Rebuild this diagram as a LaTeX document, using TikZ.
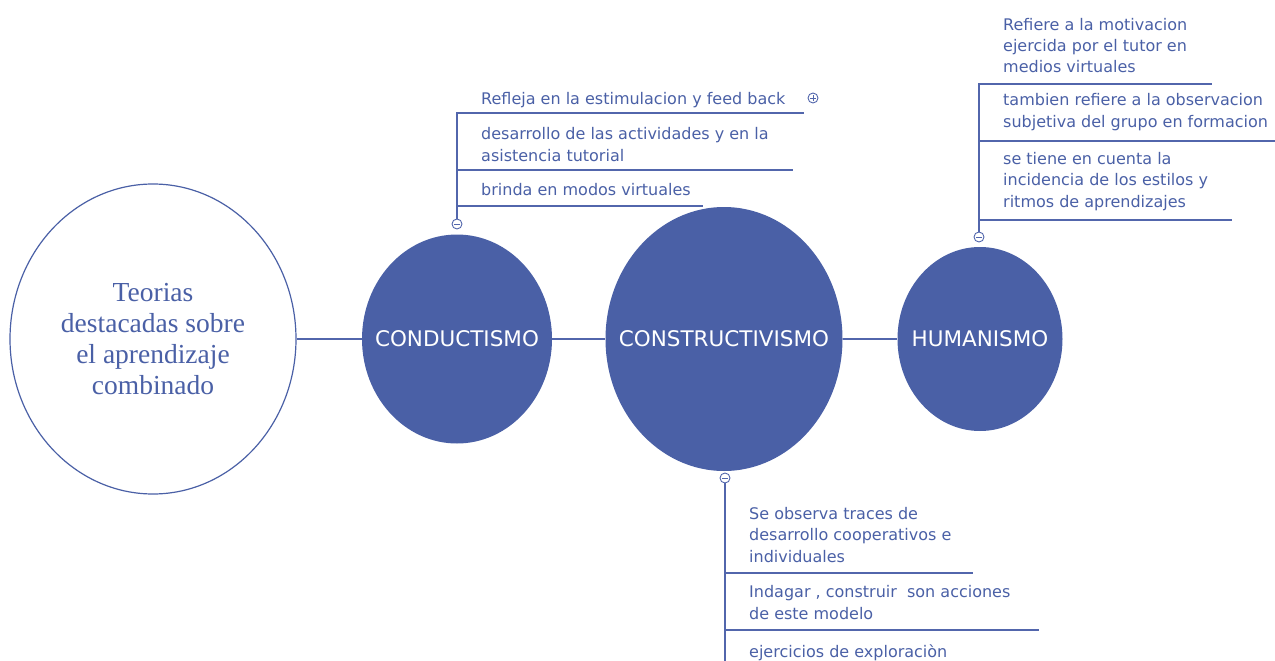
\documentclass[tikz,border=0pt]{standalone}
\usepackage{fontspec}
\setmainfont{DejaVu Sans}
\newfontfamily\teoserif{Liberation Serif}
\usepackage{tikz}
\definecolor{mapBlue}{RGB}{74, 96, 166}
\definecolor{lineBlue}{RGB}{82, 102, 172}
\usetikzlibrary{shapes.geometric, positioning}

\begin{document}
\begin{tikzpicture}[
    x=1pt, y=-1pt,
    topic/.style={ellipse, draw=mapBlue, line width=1.2pt, fill=white, minimum width=286pt, minimum height=310pt, align=center, text=mapBlue, font=\teoserif\fontsize{27.5}{31}\selectfont},
    theory/.style={ellipse, fill=mapBlue, inner sep=0pt},
    theory label/.style={text=white, inner sep=0pt, font=\fontsize{21.5}{25}\selectfont},
    item/.style={anchor=base west, inner sep=0pt, align=left, text=mapBlue, font=\fontsize{16}{21.5}\selectfont},
    link/.style={draw=lineBlue, line width=2pt},
    branch/.style={draw=lineBlue, line width=1.4pt},
    toggle/.style={circle, draw=lineBlue, fill=white, line width=0.9pt, minimum size=10pt, inner sep=0pt},
    toggle minus/.style={toggle, path picture={\draw[lineBlue, line width=0.8pt] ([xshift=-3pt]path picture bounding box.center) -- ([xshift=3pt]path picture bounding box.center);}},
    toggle plus/.style={toggle, path picture={\draw[lineBlue, line width=0.8pt] ([xshift=-3pt]path picture bounding box.center) -- ([xshift=3pt]path picture bounding box.center) ([yshift=-3pt]path picture bounding box.center) -- ([yshift=3pt]path picture bounding box.center);}}
]
    \useasboundingbox (0,0) rectangle (1275,661);

    \node[topic] (teorias) at (153,339) {Teorias\\destacadas sobre\\el aprendizaje\\combinado};
    \node[theory, minimum width=190pt, minimum height=209pt, label={[theory label]center:CONDUCTISMO}] (conductismo) at (457,339) {};
    \node[theory, minimum width=237pt, minimum height=264pt, label={[theory label]center:CONSTRUCTIVISMO}] (constructivismo) at (724,339) {};
    \node[theory, minimum width=165pt, minimum height=184pt, label={[theory label]center:HUMANISMO}] (humanismo) at (980,339) {};

    \draw[link] (teorias) -- (conductismo);
    \draw[link] (conductismo) -- (constructivismo);
    \draw[link] (constructivismo) -- (humanismo);

    % conductismo
    \coordinate (condA) at (457,113);
    \coordinate (condB) at (457,170);
    \coordinate (condC) at (457,206);
    \node[toggle minus] (condToggle) at (457,224) {};
    \draw[branch] (condToggle) -- (condA) -- ++(347,0);
    \draw[branch] (condB) -- ++(336,0);
    \draw[branch] (condC) -- ++(246,0);
    \node[item] (refleja) at (481,104) {Refleja en la estimulacion y feed back};
    \node[toggle plus] (reflejaToggle) at (813,98) {};
    \node[item] (desarrollo) at (481,161) {desarrollo de las actividades y en la\\asistencia tutorial};
    \node[item] (brinda) at (481,195) {brinda en modos virtuales};

    % humanismo
    \coordinate (humA) at (979,84);
    \coordinate (humB) at (979,141);
    \coordinate (humC) at (979,220);
    \node[toggle minus] (humToggle) at (979,237) {};
    \draw[branch] (humToggle) -- (humA) -- ++(233,0);
    \draw[branch] (humB) -- ++(296,0);
    \draw[branch] (humC) -- ++(253,0);
    \node[item] (refiere) at (1003,73) {Refiere a la motivacion\\ejercida por el tutor en\\medios virtuales};
    \node[item] (tambien) at (1003,127) {tambien refiere a la observacion\\subjetiva del grupo en formacion};
    \node[item] (tiene) at (1003,207) {se tiene en cuenta la\\incidencia de los estilos y\\ritmos de aprendizajes};

    % constructivismo
    \coordinate (consA) at (725,573);
    \coordinate (consB) at (725,630);
    \coordinate (consEnd) at (725,661);
    \node[toggle minus] (consToggle) at (725,478) {};
    \draw[branch] (consToggle) -- (consEnd);
    \draw[branch] (consA) -- ++(248,0);
    \draw[branch] (consB) -- ++(314,0);
    \node[item] (observa) at (749,562) {Se observa traces de\\desarrollo cooperativos e\\individuales};
    \node[item] (indagar) at (749,619) {Indagar , construir~ son acciones\\de este modelo};
    \node[item] (ejercicios) at (749,657) {ejercicios de exploraciòn};
\end{tikzpicture}
\end{document}
